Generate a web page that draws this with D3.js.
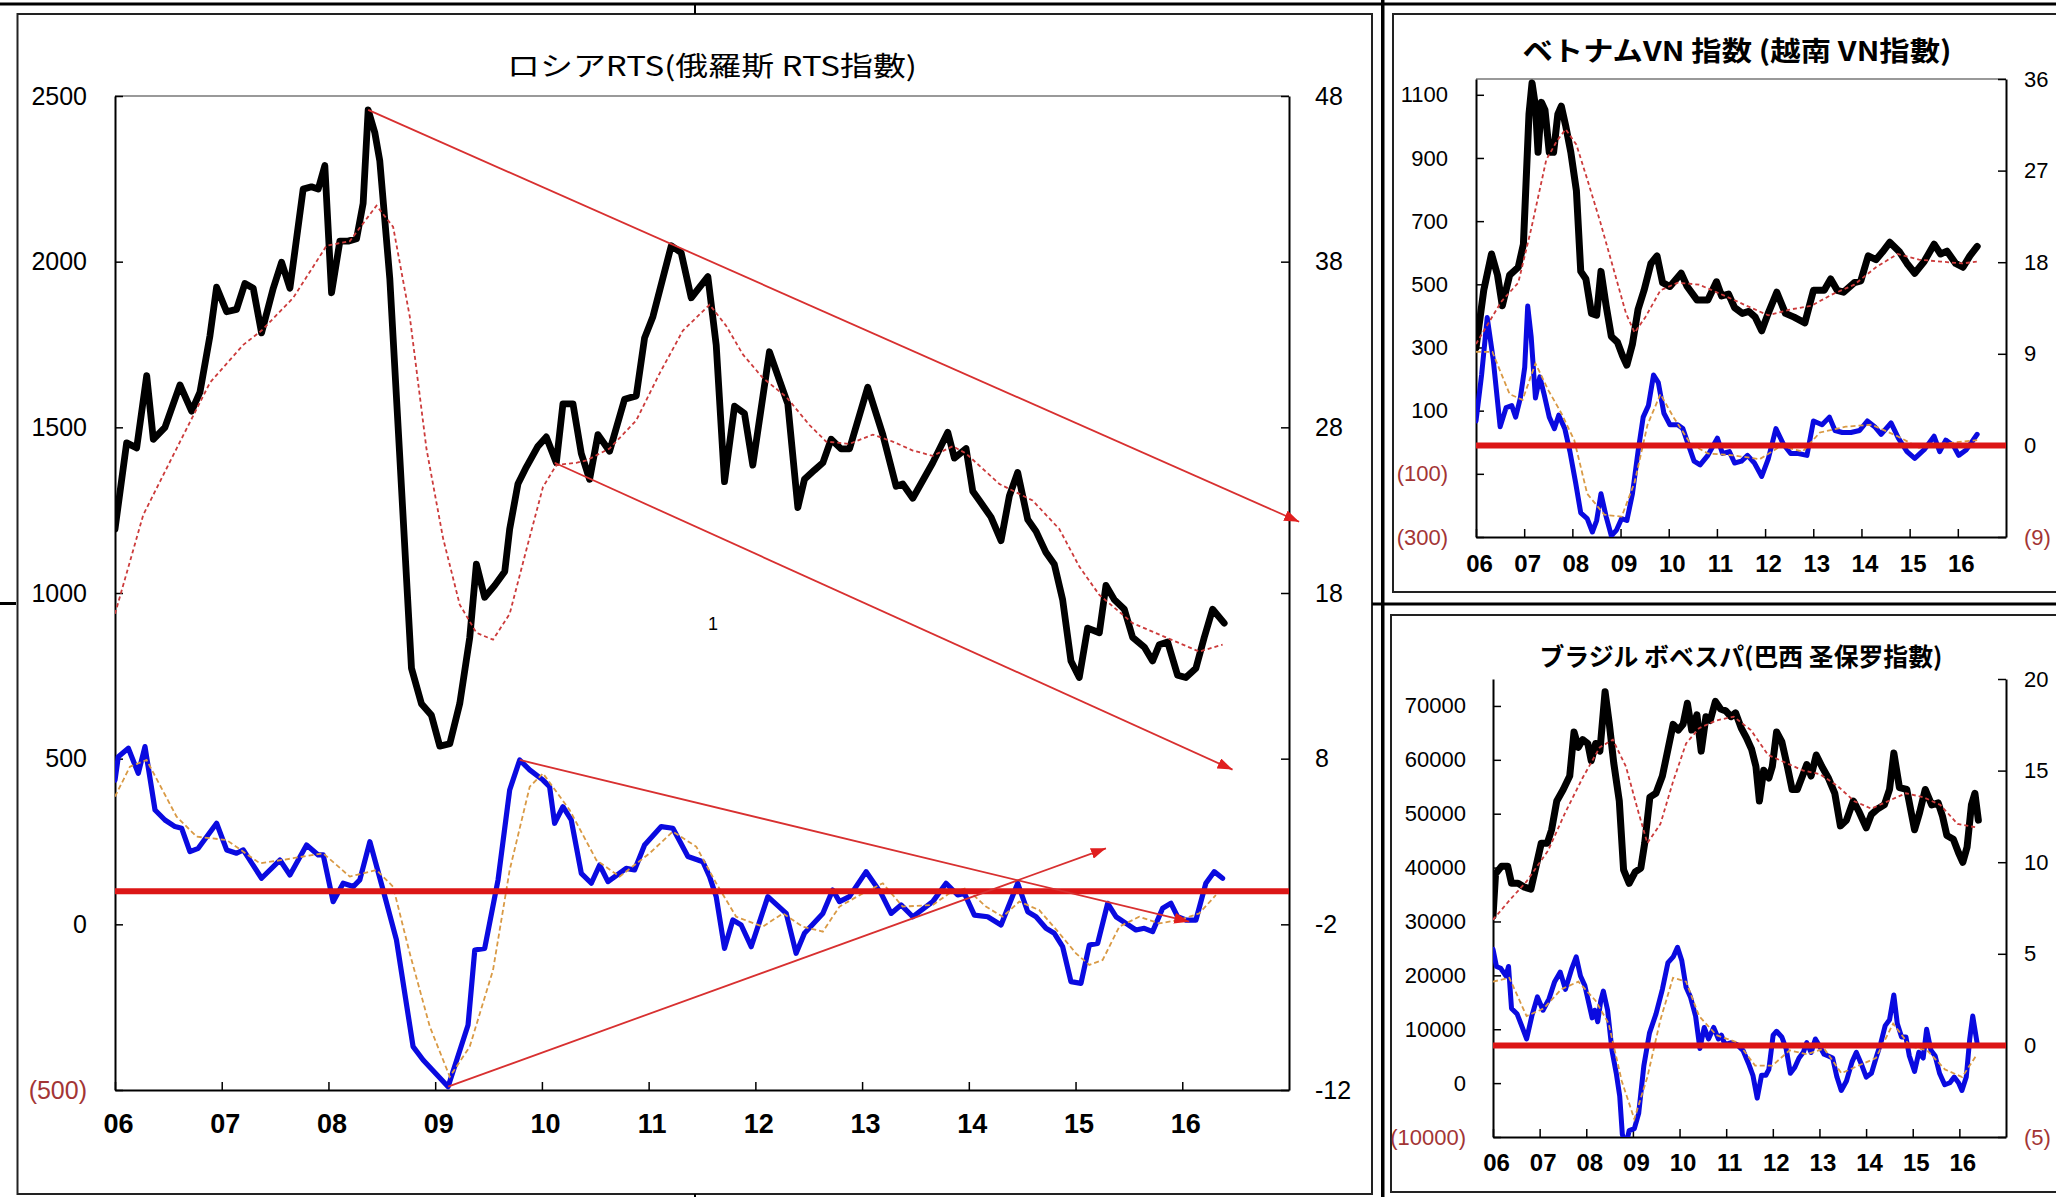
<!DOCTYPE html>
<html><head><meta charset="utf-8">
<script src="https://cdn.jsdelivr.net/npm/d3@7"></script>
<style>
html,body{margin:0;padding:0;background:#fff;}
svg{display:block;}
</style></head><body>
<svg id="chart" width="2056" height="1197"></svg>
<script>
// ---------------- DATA ----------------
const years = [2006,2007,2008,2009,2010,2011,2012,2013,2014,2015,2016];
const yearLabels = ["06","07","08","09","10","11","12","13","14","15","16"];

const rtsTitle = "ロシアRTS(俄羅斯 RTS指數)";
const vnTitle = "ベトナムVN 指数 (越南 VN指數)";
const brTitle = "ブラジル ボベスパ(巴西 圣保罗指數)";

const rtsLeftTicks = [-500,0,500,1000,1500,2000,2500];
const rtsRightTicks = [-12,-2,8,18,28,38,48];
const vnLeftTicks = [-300,-100,100,300,500,700,900,1100];
const vnRightTicks = [-9,0,9,18,27,36];
const brLeftTicks = [-10000,0,10000,20000,30000,40000,50000,60000,70000];
const brRightTicks = [-5,0,5,10,15,20];

// Russia RTS index (left axis) [year, value]
const rtsIndex = [[2006.000,1193],[2006.109,1453],[2006.203,1438],[2006.297,1656],[2006.359,1464],[2006.468,1500],[2006.609,1628],[2006.718,1549],[2006.796,1606],[2006.890,1777],[2006.952,1923],[2007.046,1849],[2007.139,1856],[2007.217,1934],[2007.295,1920],[2007.373,1785],[2007.483,1920],[2007.561,1998],[2007.639,1920],[2007.763,2219],[2007.841,2226],[2007.904,2219],[2007.966,2290],[2008.029,1906],[2008.107,2062],[2008.185,2062],[2008.263,2069],[2008.325,2176],[2008.372,2458],[2008.434,2390],[2008.481,2304],[2008.575,1948],[2008.669,1407],[2008.778,773],[2008.871,666],[2008.965,631],[2009.043,538],[2009.137,545],[2009.230,666],[2009.324,866],[2009.386,1087],[2009.464,987],[2009.558,1023],[2009.652,1065],[2009.698,1193],[2009.776,1330],[2009.854,1380],[2009.963,1443],[2010.041,1471],[2010.135,1393],[2010.197,1571],[2010.291,1571],[2010.369,1421],[2010.447,1343],[2010.525,1478],[2010.634,1428],[2010.775,1585],[2010.884,1595],[2010.962,1770],[2011.040,1834],[2011.212,2048],[2011.305,2027],[2011.399,1891],[2011.555,1955],[2011.633,1749],[2011.711,1336],[2011.805,1564],[2011.898,1542],[2011.976,1386],[2012.132,1728],[2012.226,1642],[2012.304,1571],[2012.398,1258],[2012.460,1343],[2012.554,1371],[2012.632,1393],[2012.710,1464],[2012.803,1435],[2012.882,1435],[2013.053,1621],[2013.194,1478],[2013.319,1322],[2013.381,1329],[2013.475,1286],[2013.662,1393],[2013.803,1485],[2013.865,1407],[2013.974,1436],[2014.037,1307],[2014.099,1279],[2014.208,1229],[2014.302,1158],[2014.380,1293],[2014.458,1364],[2014.552,1222],[2014.630,1186],[2014.723,1122],[2014.801,1087],[2014.879,980],[2014.957,795],[2015.035,745],[2015.113,894],[2015.223,880],[2015.285,1023],[2015.363,980],[2015.457,951],[2015.535,866],[2015.644,837],[2015.722,795],[2015.784,844],[2015.863,852],[2015.956,752],[2016.034,745],[2016.128,773],[2016.206,866],[2016.284,951],[2016.393,909]];

// RTS moving average (left axis)
const rtsMA = [[2006.000,937],[2006.265,1236],[2006.577,1436],[2006.890,1635],[2007.202,1749],[2007.373,1792],[2007.670,1891],[2007.982,2048],[2008.200,2062],[2008.450,2169],[2008.606,2105],[2008.762,1834],[2008.918,1436],[2009.074,1165],[2009.230,965],[2009.386,880],[2009.542,859],[2009.698,937],[2009.854,1130],[2010.010,1320],[2010.135,1386],[2010.322,1393],[2010.416,1400],[2010.634,1436],[2010.884,1521],[2011.103,1663],[2011.321,1792],[2011.571,1870],[2011.727,1806],[2011.883,1720],[2012.070,1649],[2012.289,1592],[2012.507,1507],[2012.663,1457],[2012.882,1450],[2013.100,1478],[2013.287,1457],[2013.475,1430],[2013.662,1414],[2013.850,1443],[2013.974,1421],[2014.286,1329],[2014.598,1279],[2014.848,1193],[2015.035,1080],[2015.223,994],[2015.535,909],[2015.847,866],[2016.159,823],[2016.378,844]];

// RTS momentum (right axis)
const rtsMomentum = [[2006.000,6.71],[2006.031,8.12],[2006.125,8.63],[2006.218,7.11],[2006.281,8.73],[2006.375,4.90],[2006.468,4.30],[2006.562,3.90],[2006.624,3.80],[2006.702,2.39],[2006.780,2.59],[2006.952,4.10],[2007.046,2.49],[2007.139,2.29],[2007.202,2.49],[2007.373,0.78],[2007.545,1.88],[2007.639,0.98],[2007.795,2.79],[2007.904,2.19],[2007.951,2.19],[2008.044,-0.63],[2008.138,0.48],[2008.232,0.28],[2008.294,0.68],[2008.388,2.99],[2008.512,0.07],[2008.637,-2.94],[2008.793,-9.38],[2008.887,-10.19],[2009.121,-11.80],[2009.308,-8.08],[2009.371,-3.55],[2009.464,-3.45],[2009.589,0.68],[2009.698,6.11],[2009.792,7.92],[2009.885,7.32],[2010.010,6.71],[2010.072,6.31],[2010.119,4.10],[2010.197,5.10],[2010.275,4.30],[2010.369,1.08],[2010.463,0.48],[2010.541,1.58],[2010.619,0.58],[2010.790,1.38],[2010.868,1.28],[2010.962,2.79],[2011.118,3.90],[2011.227,3.80],[2011.368,2.09],[2011.508,1.78],[2011.571,0.88],[2011.633,-0.33],[2011.711,-3.45],[2011.789,-1.74],[2011.867,-2.04],[2011.961,-3.35],[2012.117,-0.33],[2012.289,-1.34],[2012.382,-3.75],[2012.460,-2.54],[2012.632,-1.34],[2012.725,0.07],[2012.788,-0.63],[2012.881,-0.33],[2013.038,1.18],[2013.178,-0.13],[2013.272,-1.34],[2013.365,-0.83],[2013.475,-1.54],[2013.662,-0.63],[2013.787,0.48],[2013.896,-0.23],[2013.959,-0.13],[2014.052,-1.44],[2014.177,-1.54],[2014.302,-2.04],[2014.458,0.48],[2014.552,-1.24],[2014.630,-1.54],[2014.723,-2.24],[2014.801,-2.54],[2014.879,-3.35],[2014.957,-5.46],[2015.051,-5.56],[2015.129,-3.25],[2015.207,-3.15],[2015.301,-0.73],[2015.379,-1.54],[2015.473,-1.94],[2015.566,-2.34],[2015.644,-2.24],[2015.722,-2.44],[2015.816,-1.03],[2015.894,-0.73],[2015.956,-1.54],[2016.034,-1.74],[2016.128,-1.74],[2016.221,0.48],[2016.299,1.18],[2016.378,0.78]];

// RTS momentum moving average (right axis)
const rtsMomMA = [[2006.000,5.71],[2006.140,7.52],[2006.296,7.92],[2006.577,4.50],[2006.765,3.29],[2007.046,3.09],[2007.358,1.68],[2007.670,1.99],[2007.950,2.29],[2008.200,0.88],[2008.450,1.28],[2008.606,0.27],[2008.762,-3.75],[2008.950,-8.18],[2009.137,-11.20],[2009.324,-9.38],[2009.542,-4.76],[2009.698,1.28],[2009.886,6.31],[2010.010,7.11],[2010.260,4.90],[2010.510,1.88],[2010.728,0.88],[2011.009,2.29],[2011.227,3.60],[2011.446,2.69],[2011.633,0.48],[2011.820,-1.54],[2012.070,-2.14],[2012.258,-1.34],[2012.445,-2.14],[2012.632,-2.44],[2012.788,-0.93],[2013.006,-0.13],[2013.194,0.48],[2013.380,-0.93],[2013.662,-0.83],[2013.818,-0.13],[2013.974,0.18],[2014.160,-0.93],[2014.318,-1.54],[2014.473,-0.63],[2014.660,-1.14],[2014.848,-2.54],[2015.004,-3.75],[2015.129,-4.45],[2015.254,-4.15],[2015.410,-2.14],[2015.597,-1.54],[2015.784,-1.94],[2015.972,-1.74],[2016.159,-1.34],[2016.315,-0.23]];

// RTS trend arrows: [x1, y1, x2, y2, axis]
const rtsTrends = [
  [2008.372, 2458, 2017.095, 1215, "left"],
  [2010.119, 1393, 2016.471, 467, "left"],
  [2009.792, 7.92, 2016.065, -1.84, "right"],
  [2009.121, -11.80, 2015.285, 2.59, "right"]
];

// Vietnam VN index (left axis)
const vnIndex = [[2006.000,299],[2006.161,481],[2006.322,596],[2006.447,529],[2006.546,432],[2006.698,529],[2006.877,554],[2006.984,627],[2007.100,1039],[2007.163,1137],[2007.234,1064],[2007.288,918],[2007.360,1076],[2007.431,1052],[2007.521,918],[2007.610,918],[2007.699,1039],[2007.771,1064],[2007.860,1003],[2007.968,918],[2008.084,796],[2008.174,541],[2008.281,517],[2008.397,408],[2008.504,402],[2008.594,541],[2008.701,432],[2008.809,335],[2008.934,317],[2009.041,274],[2009.131,244],[2009.247,311],[2009.363,420],[2009.488,481],[2009.631,566],[2009.757,590],[2009.873,505],[2010.025,493],[2010.258,535],[2010.383,493],[2010.589,450],[2010.812,450],[2010.991,508],[2011.098,463],[2011.242,469],[2011.367,426],[2011.528,408],[2011.662,414],[2011.796,396],[2011.930,353],[2012.064,408],[2012.243,475],[2012.422,408],[2012.601,396],[2012.825,378],[2013.004,481],[2013.227,481],[2013.361,517],[2013.496,481],[2013.630,475],[2013.853,505],[2013.987,511],[2014.140,590],[2014.301,578],[2014.435,602],[2014.587,633],[2014.793,602],[2014.945,566],[2015.106,535],[2015.302,572],[2015.508,627],[2015.642,596],[2015.776,605],[2015.955,566],[2016.107,554],[2016.250,590],[2016.402,620]];
const vnMA = [[2006.000,311],[2006.520,444],[2006.877,505],[2007.145,675],[2007.458,894],[2007.680,954],[2007.860,991],[2008.084,942],[2008.308,833],[2008.576,699],[2008.844,554],[2009.113,408],[2009.292,347],[2009.515,396],[2009.828,481],[2010.186,505],[2010.633,499],[2011.170,463],[2011.617,432],[2012.064,402],[2012.511,420],[2012.959,432],[2013.406,469],[2013.853,499],[2014.301,554],[2014.748,596],[2015.195,578],[2015.642,572],[2016.090,566],[2016.402,572]];
const vnMomentum = [[2006.000,2.40],[2006.116,6.92],[2006.233,12.56],[2006.358,8.42],[2006.501,1.84],[2006.626,3.72],[2006.742,3.91],[2006.823,2.78],[2006.921,4.66],[2007.011,7.67],[2007.073,13.69],[2007.145,10.68],[2007.234,4.66],[2007.324,6.73],[2007.413,5.04],[2007.521,2.78],[2007.628,1.65],[2007.717,2.97],[2007.843,1.65],[2007.950,-0.61],[2008.066,-3.62],[2008.174,-6.63],[2008.308,-7.19],[2008.415,-8.51],[2008.504,-7.38],[2008.594,-4.75],[2008.701,-7.00],[2008.809,-8.88],[2008.916,-8.32],[2009.023,-7.19],[2009.131,-7.38],[2009.247,-4.75],[2009.363,-0.61],[2009.470,2.78],[2009.578,3.91],[2009.685,6.92],[2009.784,6.17],[2009.900,3.16],[2010.025,2.03],[2010.186,2.03],[2010.293,1.65],[2010.401,0.15],[2010.526,-1.54],[2010.651,-1.92],[2010.812,-0.98],[2011.009,0.71],[2011.116,-0.79],[2011.259,-0.61],[2011.367,-1.73],[2011.510,-1.55],[2011.635,-0.98],[2011.778,-1.73],[2011.930,-3.05],[2012.064,-1.36],[2012.225,1.65],[2012.377,0.15],[2012.530,-0.79],[2012.690,-0.79],[2012.869,-0.98],[2013.004,2.40],[2013.183,2.03],[2013.335,2.78],[2013.451,1.46],[2013.603,1.27],[2013.782,1.27],[2013.961,1.46],[2014.122,2.40],[2014.274,1.84],[2014.408,1.09],[2014.614,2.22],[2014.766,0.71],[2014.945,-0.61],[2015.106,-1.28],[2015.302,-0.42],[2015.508,0.90],[2015.624,-0.61],[2015.750,0.52],[2015.911,-0.04],[2016.018,-0.98],[2016.179,-0.42],[2016.402,1.09]];
const vnMomMA = [[2006.000,9.18],[2006.340,9.18],[2006.698,5.04],[2006.966,4.47],[2007.234,8.05],[2007.503,5.41],[2007.771,3.16],[2008.039,0.52],[2008.308,-4.75],[2008.665,-6.81],[2009.023,-7.00],[2009.292,-3.62],[2009.560,2.03],[2009.828,5.04],[2010.097,2.78],[2010.454,0.15],[2010.812,-0.79],[2011.349,-0.98],[2011.886,-1.36],[2012.333,-0.04],[2012.780,-0.61],[2013.138,1.27],[2013.674,1.84],[2014.211,2.03],[2014.748,0.90],[2015.195,-0.23],[2015.642,0.15],[2016.402,0.52]];

// Brazil Bovespa (left axis)
const brIndex = [[2006.000,31030],[2006.055,38850],[2006.185,40270],[2006.314,40270],[2006.397,37080],[2006.536,37080],[2006.675,36370],[2006.813,36010],[2006.924,40270],[2007.035,44540],[2007.165,44540],[2007.257,47030],[2007.368,52360],[2007.506,54500],[2007.645,56990],[2007.737,65160],[2007.830,62320],[2007.922,63740],[2008.033,63030],[2008.107,59830],[2008.200,63030],[2008.292,61610],[2008.403,72630],[2008.495,66590],[2008.588,59480],[2008.708,52360],[2008.800,39570],[2008.920,37080],[2009.050,39210],[2009.170,39920],[2009.253,44540],[2009.364,53080],[2009.494,53790],[2009.632,56990],[2009.752,61960],[2009.863,66590],[2009.974,65520],[2010.076,66590],[2010.168,70500],[2010.261,65520],[2010.372,68360],[2010.464,61610],[2010.566,68010],[2010.658,67300],[2010.769,70850],[2010.880,69430],[2010.991,69080],[2011.102,68010],[2011.203,68720],[2011.323,65880],[2011.434,64100],[2011.545,61960],[2011.638,58760],[2011.712,52360],[2011.804,58050],[2011.915,56630],[2011.989,58760],[2012.081,65160],[2012.192,63390],[2012.312,58760],[2012.414,54500],[2012.525,54500],[2012.636,56990],[2012.728,59120],[2012.821,56990],[2012.931,60900],[2013.052,58760],[2013.190,56630],[2013.329,53790],[2013.449,47740],[2013.579,48810],[2013.726,52360],[2013.856,50230],[2014.004,47390],[2014.115,49880],[2014.253,50940],[2014.392,51650],[2014.503,54500],[2014.595,61250],[2014.715,54850],[2014.872,54500],[2015.039,47030],[2015.148,50230],[2015.268,54500],[2015.407,51650],[2015.546,52010],[2015.639,49520],[2015.732,45960],[2015.871,45250],[2015.982,42760],[2016.074,40990],[2016.166,43830],[2016.259,51650],[2016.333,53790],[2016.407,48810]];
const brMA = [[2006.000,30320],[2006.350,33880],[2006.720,37440],[2007.180,43120],[2007.550,50230],[2007.920,56630],[2008.290,62320],[2008.570,63740],[2008.850,58760],[2009.120,50230],[2009.310,44540],[2009.590,48100],[2009.860,55920],[2010.140,63030],[2010.420,65880],[2010.790,67300],[2011.160,68010],[2011.530,65520],[2011.900,60900],[2012.270,59480],[2012.640,58050],[2013.010,57340],[2013.380,55210],[2013.740,52360],[2014.110,50940],[2014.480,52360],[2014.850,53790],[2015.220,53080],[2015.590,51650],[2015.960,48100],[2016.400,47390]];
const brMomentum = [[2006.000,5.25],[2006.074,4.31],[2006.166,4.21],[2006.277,3.79],[2006.333,4.31],[2006.397,2.02],[2006.518,1.71],[2006.628,0.98],[2006.721,0.35],[2006.832,1.60],[2006.952,2.65],[2007.072,1.92],[2007.201,2.54],[2007.322,3.48],[2007.442,4.00],[2007.553,3.06],[2007.691,4.21],[2007.784,4.83],[2007.876,3.79],[2007.969,3.27],[2008.061,2.23],[2008.126,1.50],[2008.181,1.92],[2008.246,1.29],[2008.311,2.44],[2008.366,2.96],[2008.458,1.92],[2008.551,-0.27],[2008.643,-1.52],[2008.717,-2.77],[2008.773,-4.85],[2008.847,-5.48],[2008.920,-4.65],[2009.031,-4.54],[2009.124,-3.71],[2009.235,-1.10],[2009.355,0.67],[2009.494,1.71],[2009.632,3.06],[2009.752,4.52],[2009.863,4.83],[2009.956,5.35],[2010.048,4.63],[2010.140,3.17],[2010.233,2.65],[2010.344,1.60],[2010.436,-0.17],[2010.529,0.98],[2010.621,0.35],[2010.732,0.98],[2010.834,0.35],[2010.898,0.56],[2010.972,0.04],[2011.111,0.15],[2011.231,0.04],[2011.360,-0.27],[2011.481,-1.00],[2011.573,-1.63],[2011.665,-2.88],[2011.758,-1.63],[2011.850,-1.63],[2011.915,-1.31],[2012.007,0.56],[2012.081,0.77],[2012.192,0.46],[2012.285,-0.17],[2012.377,-1.52],[2012.470,-1.21],[2012.562,-0.69],[2012.654,-0.38],[2012.728,0.15],[2012.821,-0.38],[2012.913,0.35],[2013.006,-0.06],[2013.098,-0.48],[2013.190,-0.58],[2013.283,-0.69],[2013.375,-1.73],[2013.468,-2.46],[2013.579,-1.94],[2013.699,-0.90],[2013.791,-0.38],[2013.911,-1.10],[2014.004,-1.73],[2014.115,-1.52],[2014.226,-0.58],[2014.318,0.15],[2014.410,1.08],[2014.503,1.40],[2014.595,2.75],[2014.669,1.19],[2014.761,0.46],[2014.854,0.46],[2014.928,-0.58],[2015.039,-1.42],[2015.131,-0.38],[2015.224,-0.69],[2015.298,0.88],[2015.390,-0.27],[2015.482,-0.58],[2015.575,-1.52],[2015.686,-2.15],[2015.797,-2.04],[2015.889,-1.73],[2015.982,-2.04],[2016.055,-2.46],[2016.148,-1.73],[2016.222,0.35],[2016.287,1.60],[2016.379,0.15]];
const brMomMA = [[2006.000,3.48],[2006.350,3.69],[2006.720,1.60],[2007.090,2.02],[2007.460,3.06],[2007.830,3.48],[2008.200,2.44],[2008.480,1.19],[2008.760,-1.94],[2009.030,-4.02],[2009.310,-1.73],[2009.590,1.40],[2009.860,3.69],[2010.140,3.48],[2010.420,1.60],[2010.790,0.56],[2011.250,0.15],[2011.620,-1.10],[2011.990,-1.10],[2012.360,-0.27],[2012.730,-0.48],[2013.100,-0.17],[2013.470,-1.52],[2013.840,-1.10],[2014.210,-0.69],[2014.580,1.19],[2014.950,-0.06],[2015.310,-0.27],[2015.690,-1.31],[2016.060,-1.73],[2016.380,-0.48]];

// ---------------- DRAWING ----------------
const svg = d3.select("#chart");
const NUMFONT = '"Liberation Sans", Arial, sans-serif';
const CJKFONT = '"Noto Sans CJK JP", "Noto Sans CJK SC", sans-serif';
const NEG = "#a33535";

const defs = svg.append("defs");
defs.append("marker").attr("id","arrow").attr("viewBox","0 0 10 10")
  .attr("refX",10).attr("refY",5).attr("markerUnits","userSpaceOnUse")
  .attr("markerWidth",15).attr("markerHeight",11).attr("orient","auto")
  .attr("preserveAspectRatio","none")
  .append("path").attr("d","M0,0 L10,5 L0,10 Z").attr("fill","#e01e1e");

// panel frames
const frame = svg.append("g");
frame.append("rect").attr("x",0).attr("y",2.5).attr("width",2056).attr("height",3).attr("fill","#000");
frame.append("rect").attr("x",17.5).attr("y",14).attr("width",1354.5).attr("height",1180).attr("fill","none").attr("stroke","#222").attr("stroke-width",2);
frame.append("rect").attr("x",1381).attr("y",0).attr("width",3.5).attr("height",1197).attr("fill","#000");
frame.append("rect").attr("x",1372).attr("y",602.5).attr("width",684).attr("height",3).attr("fill","#000");
frame.append("rect").attr("x",0).attr("y",602).attr("width",16).attr("height",3).attr("fill","#000");
frame.append("rect").attr("x",694).attr("y",5).attr("width",2).attr("height",9).attr("fill","#000");
frame.append("rect").attr("x",694).attr("y",1194).attr("width",2).attr("height",3).attr("fill","#000");
frame.append("rect").attr("x",1393).attr("y",14).attr("width",700).attr("height",578).attr("fill","none").attr("stroke","#222").attr("stroke-width",2);
frame.append("rect").attr("x",1391).attr("y",615).attr("width",700).attr("height",577).attr("fill","none").attr("stroke","#222").attr("stroke-width",2);

const negParen = d => d < 0 ? `(${-d})` : String(d);
const plainNum = d => d < 0 ? "-" + (-d) : String(d);

function styleAxis(g, size, bold){
  g.attr("font-family", NUMFONT).attr("font-size", size);
  if (bold) g.attr("font-weight","bold");
  g.select(".domain").attr("stroke","#000").attr("stroke-width",2);
  g.selectAll(".tick line").attr("stroke","#000").attr("stroke-width",1.5);
}

function drawPanel(cfg){
  const L = cfg.layout;
  const x = d3.scaleLinear().domain([2006,2017]).range([L.left, L.right]);
  const yL = d3.scaleLinear().domain(cfg.leftDomain).range([L.bottom, L.top]);
  const yR = d3.scaleLinear().domain(cfg.rightDomain).range([L.bottom, L.top]);
  const g = svg.append("g");

  defs.append("clipPath").attr("id","clip-"+cfg.id).append("rect")
    .attr("x",L.left).attr("y",L.top).attr("width",L.right-L.left).attr("height",L.bottom-L.top);

  // title
  g.append("text").attr("x",L.titleX).attr("y",L.titleY)
    .attr("text-anchor","middle").attr("dominant-baseline","central")
    .attr("font-family",CJKFONT).attr("font-size",L.titleSize)
    .attr("font-weight",L.titleWeight)
    .attr("textLength",L.titleLen).attr("lengthAdjust","spacingAndGlyphs")
    .text(cfg.title);

  if (L.topBorder){
    g.append("line").attr("x1",L.left).attr("x2",L.right).attr("y1",L.top).attr("y2",L.top)
      .attr("stroke","#777").attr("stroke-width",1.5);
  }

  // axes
  const gl = g.append("g").attr("transform",`translate(${L.left},0)`)
    .call(d3.axisLeft(yL).tickValues(cfg.leftTicks).tickFormat(negParen).tickSize(-8).tickSizeOuter(0).tickPadding(L.lpad));
  styleAxis(gl, L.lfont, false);
  gl.selectAll("text").attr("fill", d => d < 0 ? NEG : "#000");

  const gr = g.append("g").attr("transform",`translate(${L.right},0)`)
    .call(d3.axisRight(yR).tickValues(cfg.rightTicks).tickFormat(cfg.rightFormat).tickSize(-8).tickSizeOuter(0).tickPadding(L.rpad));
  styleAxis(gr, L.rfont, false);
  gr.selectAll("text").attr("fill", d => (d < 0 && cfg.rightFormat === negParen) ? NEG : "#000");

  const gb = g.append("g").attr("transform",`translate(0,${L.bottom})`)
    .call(d3.axisBottom(x).tickValues(years).tickFormat((d,i)=>yearLabels[i]).tickSize(-8).tickSizeOuter(0).tickPadding(L.bpad));
  styleAxis(gb, L.bfont, true);
  gb.selectAll("text").attr("dx", 3);

  // series
  const lineL = d3.line().x(d=>x(d[0])).y(d=>yL(d[1]));
  const lineR = d3.line().x(d=>x(d[0])).y(d=>yR(d[1]));
  const plot = g.append("g").attr("clip-path",`url(#clip-${cfg.id})`);

  plot.append("path").datum(cfg.price).attr("d",lineL).attr("fill","none")
    .attr("stroke","#000").attr("stroke-width",L.priceW).attr("stroke-linejoin","round").attr("stroke-linecap","round");
  plot.append("path").datum(cfg.momentum).attr("d",lineR).attr("fill","none")
    .attr("stroke","#0a0ae0").attr("stroke-width",L.momW).attr("stroke-linejoin","round").attr("stroke-linecap","round");
  plot.append("path").datum(cfg.priceMA).attr("d",lineL).attr("fill","none")
    .attr("stroke","#cc3b3b").attr("stroke-width",1.8).attr("stroke-dasharray","4 3");
  plot.append("path").datum(cfg.momMA).attr("d",lineR).attr("fill","none")
    .attr("stroke","#d99a45").attr("stroke-width",1.8).attr("stroke-dasharray","5 3");
  // zero line of right axis
  plot.append("line").attr("x1",L.left).attr("x2",L.right).attr("y1",yR(0)).attr("y2",yR(0))
    .attr("stroke","#dc1616").attr("stroke-width",L.zeroW);

  // trend arrows
  (cfg.trends || []).forEach(t => {
    const ys = t[4] === "left" ? yL : yR;
    g.append("line").attr("x1",x(t[0])).attr("y1",ys(t[1])).attr("x2",x(t[2])).attr("y2",ys(t[3]))
      .attr("stroke","#d83030").attr("stroke-width",1.8).attr("marker-end","url(#arrow)");
  });

  return {x, yL, yR};
}

drawPanel({
  id:"rts", title: rtsTitle,
  leftDomain:[-500,2500], rightDomain:[-12,48],
  leftTicks: rtsLeftTicks, rightTicks: rtsRightTicks, rightFormat: plainNum,
  price: rtsIndex, priceMA: rtsMA, momentum: rtsMomentum, momMA: rtsMomMA, trends: rtsTrends,
  layout:{left:115,right:1289,top:96,bottom:1090,
    titleX:712,titleY:64,titleSize:27,titleWeight:400,titleLen:410,topBorder:true,
    lfont:25,lpad:28,rfont:25,rpad:26,bfont:27,bpad:24,
    priceW:6.8,momW:5.2,zeroW:6}
});

drawPanel({
  id:"vn", title: vnTitle,
  leftDomain:[-300,1150], rightDomain:[-9,36],
  leftTicks: vnLeftTicks, rightTicks: vnRightTicks, rightFormat: negParen,
  price: vnIndex, priceMA: vnMA, momentum: vnMomentum, momMA: vnMomMA,
  layout:{left:1476,right:2006,top:79,bottom:537,
    titleX:1737,titleY:49,titleSize:27,titleWeight:700,titleLen:429,topBorder:true,
    lfont:22,lpad:28,rfont:22,rpad:18,bfont:24,bpad:18,
    priceW:7,momW:5,zeroW:6}
});

drawPanel({
  id:"br", title: brTitle,
  leftDomain:[-10000,75000], rightDomain:[-5,20],
  leftTicks: brLeftTicks, rightTicks: brRightTicks, rightFormat: negParen,
  price: brIndex, priceMA: brMA, momentum: brMomentum, momMA: brMomMA,
  layout:{left:1493,right:2006,top:679,bottom:1137,
    titleX:1741,titleY:655,titleSize:25,titleWeight:700,titleLen:403,topBorder:false,
    lfont:22,lpad:27,rfont:22,rpad:18,bfont:24,bpad:17,
    priceW:7,momW:5,zeroW:6}
});

// small label inside RTS chart
svg.append("text").attr("x",713).attr("y",630).attr("text-anchor","middle")
  .attr("font-family",NUMFONT).attr("font-size",18).text("1");
</script>
</body></html>
